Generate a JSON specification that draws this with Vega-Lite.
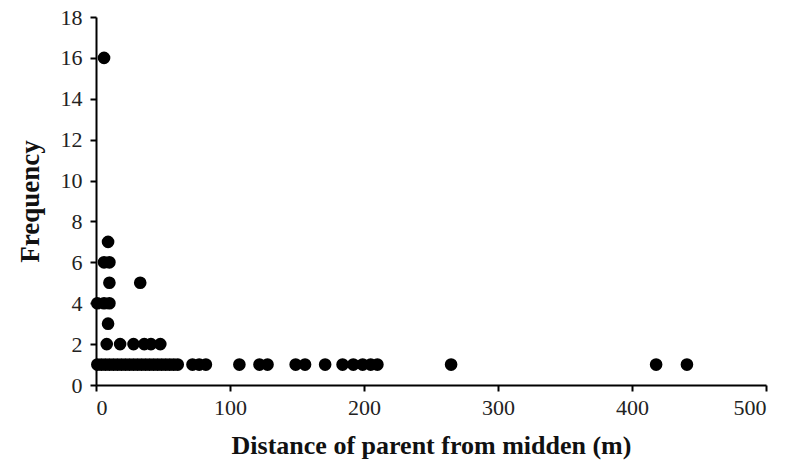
{
  "$schema": "https://vega.github.io/schema/vega-lite/v6.json",
  "width": 670,
  "height": 368,
  "autosize": {"type": "none"},
  "padding": {"left": 96, "top": 17, "right": 21, "bottom": 88},
  "background": "white",
  "config": {"view": {"stroke": null}},
  "data": {"values": [
    {"d": 6, "f": 16},
    {"d": 9, "f": 7},
    {"d": 6, "f": 6}, {"d": 10, "f": 6},
    {"d": 10, "f": 5}, {"d": 33, "f": 5},
    {"d": 1, "f": 4}, {"d": 6, "f": 4}, {"d": 10, "f": 4},
    {"d": 9, "f": 3},
    {"d": 8, "f": 2}, {"d": 18, "f": 2}, {"d": 28, "f": 2}, {"d": 36, "f": 2}, {"d": 41, "f": 2}, {"d": 48, "f": 2},
    {"d": 1, "f": 1}, {"d": 4, "f": 1}, {"d": 7, "f": 1}, {"d": 10, "f": 1}, {"d": 13, "f": 1},
    {"d": 16, "f": 1}, {"d": 19, "f": 1}, {"d": 22, "f": 1}, {"d": 25, "f": 1}, {"d": 28, "f": 1},
    {"d": 31, "f": 1}, {"d": 34, "f": 1}, {"d": 37, "f": 1}, {"d": 40, "f": 1}, {"d": 43, "f": 1},
    {"d": 46, "f": 1}, {"d": 49, "f": 1}, {"d": 52, "f": 1}, {"d": 55, "f": 1}, {"d": 58, "f": 1},
    {"d": 61, "f": 1}, {"d": 72, "f": 1}, {"d": 77, "f": 1}, {"d": 82, "f": 1},
    {"d": 107, "f": 1}, {"d": 122, "f": 1}, {"d": 128, "f": 1},
    {"d": 149, "f": 1}, {"d": 156, "f": 1}, {"d": 171, "f": 1},
    {"d": 184, "f": 1}, {"d": 192, "f": 1}, {"d": 199, "f": 1}, {"d": 205, "f": 1}, {"d": 210, "f": 1},
    {"d": 265, "f": 1}, {"d": 418, "f": 1}, {"d": 441, "f": 1}
  ]},
  "mark": {"type": "point", "filled": true, "color": "black", "opacity": 1, "size": 160},
  "encoding": {
    "x": {
      "field": "d", "type": "quantitative",
      "scale": {"domain": [0, 500], "nice": false, "zero": true},
      "axis": {
        "values": [0, 100, 200, 300, 400, 500],
        "title": "Distance of parent from midden (m)",
        "grid": false, "domainColor": "black", "domainWidth": 2, "tickColor": "black", "tickWidth": 2, "tickSize": 6,
        "labelFont": "Liberation Serif", "labelFontSize": 22, "labelColor": "#222", "labelPadding": 6,
        "titleFont": "Liberation Serif", "titleFontSize": 26, "titleFontWeight": "bold", "titleColor": "#111", "titlePadding": 14
      }
    },
    "y": {
      "field": "f", "type": "quantitative",
      "scale": {"domain": [0, 18], "nice": false},
      "axis": {
        "values": [0, 2, 4, 6, 8, 10, 12, 14, 16, 18],
        "title": "Frequency",
        "grid": false, "domainColor": "black", "domainWidth": 2, "tickColor": "black", "tickWidth": 2, "tickSize": 6,
        "labelFont": "Liberation Serif", "labelFontSize": 22, "labelColor": "#222", "labelPadding": 8,
        "titleFont": "Liberation Serif", "titleFontSize": 27, "titleFontWeight": "bold", "titleColor": "#111", "titlePadding": 16
      }
    }
  }
}
